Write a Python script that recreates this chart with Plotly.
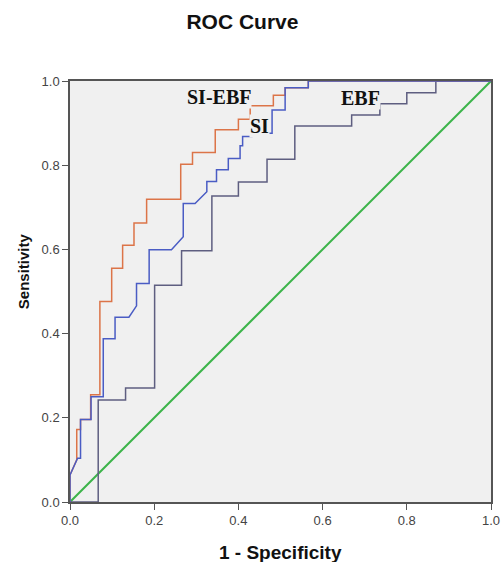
import plotly.graph_objects as go

# ROC curve points (1 - specificity, sensitivity)
si_ebf_fpr = [0, 0, 0.016, 0.016, 0.025, 0.025, 0.049, 0.049, 0.071, 0.071, 0.099, 0.099,
              0.125, 0.125, 0.152, 0.152, 0.182, 0.182, 0.263, 0.263, 0.291, 0.291, 0.345,
              0.345, 0.40, 0.40, 0.428, 0.428, 0.483, 0.483, 0.511, 0.511, 0.566, 0.566, 1.0]
si_ebf_tpr = [0, 0.064, 0.10, 0.172, 0.172, 0.196, 0.196, 0.255, 0.255, 0.476, 0.476, 0.555,
              0.555, 0.610, 0.610, 0.663, 0.663, 0.719, 0.719, 0.802, 0.802, 0.830, 0.830,
              0.884, 0.884, 0.909, 0.909, 0.941, 0.941, 0.966, 0.966, 0.984, 0.984, 1.0, 1.0]

si_fpr = [0, 0, 0.018, 0.025, 0.025, 0.05, 0.05, 0.079, 0.079, 0.107, 0.107, 0.140, 0.158,
          0.158, 0.188, 0.188, 0.241, 0.269, 0.269, 0.297, 0.325, 0.325, 0.348, 0.348, 0.376,
          0.376, 0.404, 0.404, 0.41, 0.41, 0.432, 0.432, 0.48, 0.48, 0.511, 0.511, 0.566,
          0.566, 1.0]
si_tpr = [0, 0.064, 0.104, 0.104, 0.196, 0.196, 0.250, 0.250, 0.388, 0.388, 0.439, 0.439, 0.466,
          0.519, 0.519, 0.599, 0.599, 0.630, 0.709, 0.709, 0.737, 0.761, 0.761, 0.789, 0.789,
          0.816, 0.816, 0.846, 0.846, 0.868, 0.868, 0.876, 0.876, 0.931, 0.931, 0.984, 0.984,
          1.0, 1.0]

ebf_fpr = [0, 0.067, 0.067, 0.132, 0.132, 0.201, 0.201, 0.265, 0.265, 0.337, 0.337, 0.40,
           0.40, 0.468, 0.468, 0.534, 0.534, 0.669, 0.669, 0.736, 0.736, 0.80, 0.80, 0.869,
           0.869, 1.0]
ebf_tpr = [0, 0, 0.242, 0.242, 0.271, 0.271, 0.515, 0.515, 0.597, 0.597, 0.727, 0.727,
           0.760, 0.760, 0.814, 0.814, 0.893, 0.893, 0.919, 0.919, 0.946, 0.946, 0.972, 0.972,
           1.0, 1.0]

ref_x = [0, 1]
ref_y = [0, 1]

curve_labels = ["SI-EBF", "SI", "EBF"]
label_x = [0.354, 0.451, 0.69]
label_y = [0.961, 0.894, 0.96]
ticks = [0, 0.2, 0.4, 0.6, 0.8, 1.0]

plot_bg = "#f0f0f0"
fig = go.Figure()
fig.add_trace(go.Scatter(x=ref_x, y=ref_y, mode="lines",
                         line=dict(color="#3cb44a", width=2), showlegend=False))
fig.add_trace(go.Scatter(x=ebf_fpr, y=ebf_tpr, mode="lines",
                         line=dict(color="#5e5e80", width=1.5), showlegend=False))
fig.add_trace(go.Scatter(x=si_ebf_fpr, y=si_ebf_tpr, mode="lines",
                         line=dict(color="#dc7448", width=1.5), showlegend=False))
fig.add_trace(go.Scatter(x=si_fpr, y=si_tpr, mode="lines",
                         line=dict(color="#4a5cc4", width=1.5), showlegend=False))

annotations = []
for t, x, y in zip(curve_labels, label_x, label_y):
    annotations.append(dict(x=x, y=y, xref="x", yref="y", text=t, showarrow=False,
                            font=dict(family="Liberation Serif", size=20, color="#111",
                                      weight="bold"),
                            bgcolor=plot_bg, borderpad=0))

annotations.append(dict(x=0.5, y=-0.121, xref="paper", yref="paper", text="1 - Specificity",
                        showarrow=False, yanchor="middle",
                        font=dict(family="Liberation Sans", size=19, color="#111", weight="bold")))
annotations.append(dict(x=-0.110, y=0.5475, xref="paper", yref="paper", text="Sensitivity",
                        showarrow=False, textangle=-90, xanchor="center", yanchor="middle",
                        font=dict(family="Liberation Sans", size=15, color="#111", weight="bold")))

axis_common = dict(range=[0, 1], tickvals=ticks, tickformat=".1f", showgrid=False,
                   zeroline=False, showline=True, linecolor="#555", linewidth=1.5,
                   mirror=True, ticks="outside", ticklen=6, tickcolor="#555", tickwidth=1.2,
                   automargin=False,
                   tickfont=dict(family="Liberation Sans", size=13, color="#444"))

fig.update_layout(
    width=501, height=562,
    margin=dict(l=70, r=10, t=81, b=60, autoexpand=False),
    paper_bgcolor="white", plot_bgcolor=plot_bg,
    title=dict(text="ROC Curve", x=0.484, xanchor="center", y=1 - 22 / 562,
               yanchor="middle", yref="container",
               font=dict(family="Liberation Sans", size=21, color="#111", weight="bold")),
    xaxis=dict(**axis_common),
    yaxis=dict(**axis_common),
    annotations=annotations,
)

# remove the default 8px page margin so the figure fills the window exactly
fig.write_html("out.html",
               config={"displayModeBar": False},
               post_script="document.body.style.margin='0px';"
                           "document.body.style.overflow='hidden';")
